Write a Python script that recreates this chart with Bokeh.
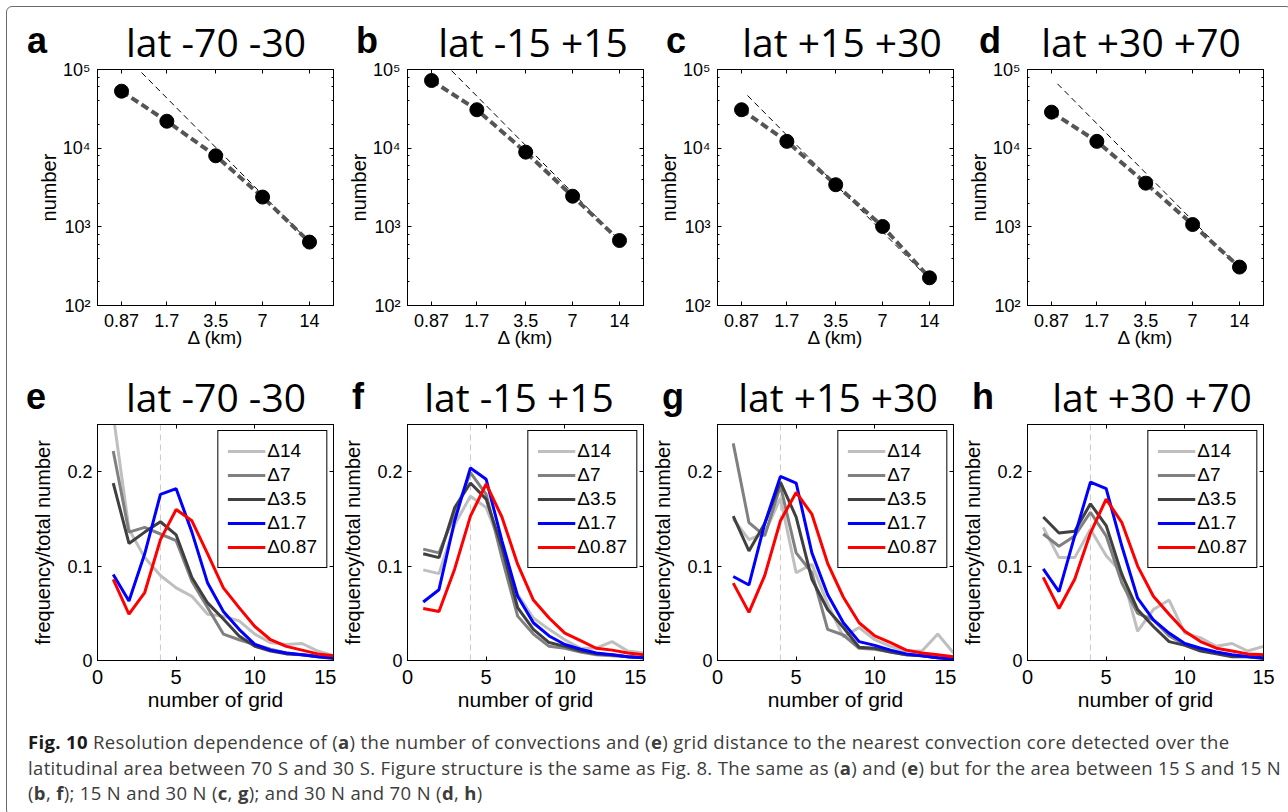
from bokeh.plotting import figure
from bokeh.layouts import row, column
from bokeh.models import (Range1d, FixedTicker, LogTicker, LogAxis, LinearAxis, Span, Div,
                          CustomJSTickFormatter)
from bokeh.embed import file_html
from bokeh.resources import INLINE

# ---------------- data ----------------
letters_top = ["a", "b", "c", "d"]
letters_bot = ["e", "f", "g", "h"]
titles = ["lat -70 -30", "lat -15 +15", "lat +15 +30", "lat +30 +70"]

delta_km = [0.87, 1.7, 3.5, 7, 14]
delta_labels = ["0.87", "1.7", "3.5", "7", "14"]
count_ticks = [100, 1000, 10000, 100000]
count_tick_labels = ["10²", "10³", "10⁴", "10⁵"]

counts_a = [53000, 22000, 8000, 2390, 640]
counts_b = [72400, 30800, 8900, 2450, 670]
counts_c = [30800, 12200, 3430, 1010, 225]
counts_d = [28700, 12200, 3590, 1070, 308]

ref_x = [0.95, 14]
ref_a = [138700, 640]
ref_b = [146800, 676]
ref_c = [46800, 215]
ref_d = [65800, 300]

grid_n = [1, 2, 3, 4, 5, 6, 7, 8, 9, 10, 11, 12, 13, 14, 15]
grid_ticks = [0, 5, 10, 15]
grid_tick_labels = ["0", "5", "10", "15"]
freq_ticks = [0, 0.1, 0.2]
freq_tick_labels = ["0", "0.1", "0.2"]
nearest_ref = 4

series_names = ["Δ14", "Δ7", "Δ3.5", "Δ1.7", "Δ0.87"]

e14 = [0.26, 0.139, 0.109, 0.090, 0.077, 0.068, 0.049, 0.047, 0.042, 0.028, 0.019, 0.017, 0.018, 0.010, 0.005]
e7 = [0.222, 0.136, 0.141, 0.134, 0.127, 0.084, 0.056, 0.028, 0.022, 0.017, 0.012, 0.008, 0.006, 0.005, 0.003]
e35 = [0.188, 0.124, 0.136, 0.147, 0.133, 0.088, 0.061, 0.044, 0.026, 0.015, 0.010, 0.007, 0.006, 0.004, 0.002]
e17 = [0.091, 0.063, 0.113, 0.176, 0.182, 0.136, 0.082, 0.052, 0.033, 0.017, 0.011, 0.008, 0.006, 0.004, 0.003]
e087 = [0.086, 0.049, 0.072, 0.128, 0.160, 0.148, 0.113, 0.077, 0.056, 0.036, 0.022, 0.015, 0.011, 0.007, 0.005]

f14 = [0.096, 0.092, 0.144, 0.174, 0.162, 0.120, 0.070, 0.045, 0.033, 0.022, 0.013, 0.013, 0.020, 0.010, 0.008]
f7 = [0.118, 0.114, 0.155, 0.199, 0.176, 0.109, 0.047, 0.028, 0.015, 0.013, 0.009, 0.006, 0.005, 0.004, 0.003]
f35 = [0.113, 0.109, 0.162, 0.188, 0.171, 0.120, 0.056, 0.033, 0.019, 0.015, 0.010, 0.007, 0.006, 0.004, 0.003]
f17 = [0.062, 0.075, 0.148, 0.204, 0.192, 0.127, 0.068, 0.040, 0.026, 0.017, 0.012, 0.008, 0.006, 0.004, 0.003]
f087 = [0.055, 0.052, 0.097, 0.153, 0.187, 0.152, 0.102, 0.064, 0.045, 0.029, 0.021, 0.013, 0.011, 0.008, 0.006]

g14 = [0.150, 0.128, 0.135, 0.172, 0.093, 0.102, 0.060, 0.025, 0.035, 0.022, 0.015, 0.010, 0.010, 0.028, 0.008]
g7 = [0.230, 0.146, 0.132, 0.185, 0.114, 0.093, 0.033, 0.027, 0.013, 0.012, 0.009, 0.006, 0.005, 0.003, 0.002]
g35 = [0.153, 0.116, 0.145, 0.189, 0.152, 0.086, 0.054, 0.035, 0.014, 0.013, 0.009, 0.006, 0.005, 0.003, 0.002]
g17 = [0.089, 0.080, 0.145, 0.195, 0.188, 0.114, 0.070, 0.040, 0.020, 0.016, 0.011, 0.007, 0.005, 0.003, 0.0015]
g087 = [0.082, 0.051, 0.090, 0.148, 0.178, 0.155, 0.103, 0.067, 0.040, 0.026, 0.019, 0.011, 0.008, 0.006, 0.004]

h14 = [0.141, 0.109, 0.109, 0.139, 0.111, 0.093, 0.031, 0.054, 0.064, 0.029, 0.024, 0.015, 0.018, 0.010, 0.015]
h7 = [0.134, 0.121, 0.132, 0.157, 0.132, 0.082, 0.050, 0.043, 0.026, 0.017, 0.011, 0.008, 0.005, 0.005, 0.006]
h35 = [0.152, 0.135, 0.137, 0.166, 0.143, 0.091, 0.054, 0.036, 0.020, 0.016, 0.010, 0.007, 0.004, 0.004, 0.002]
h17 = [0.097, 0.073, 0.132, 0.189, 0.182, 0.121, 0.066, 0.043, 0.029, 0.018, 0.013, 0.009, 0.006, 0.004, 0.003]
h087 = [0.088, 0.055, 0.086, 0.135, 0.171, 0.146, 0.100, 0.068, 0.049, 0.031, 0.020, 0.013, 0.010, 0.007, 0.006]

caption_lines = [
    '<b style="color:#1a1a1a">Fig. 10</b> Resolution dependence of (<b>a</b>) the number of convections and (<b>e</b>) grid distance to the nearest convection core detected over the',
    'latitudinal area between 70 S and 30 S. Figure structure is the same as Fig. 8. The same as (<b>a</b>) and (<b>e</b>) but for the area between 15 S and 15 N',
    '(<b>b</b>, <b>f</b>); 15 N and 30 N (<b>c</b>, <b>g</b>); and 30 N and 70 N (<b>d</b>, <b>h</b>)',
]

# ---------------- style / layout ----------------
AX_FONT = "Liberation Sans"
TITLE_FONT = "Open Sans"
FRAME = 236
PAGE_W = 1288
TOP_T, TOP_B = 69, 61
BOT_T, BOT_B = 58, 58
LEFTS = [97, 71, 71, 71]
RIGHTS = [3, 3, 3, 25]
LETTER_X_TOP = [27, 356, 666, 979]
LETTER_X_BOT = [26, 352, 662, 972]
TITLE_CX_TOP = [216, 533, 842, 1141]
TITLE_CX_BOT = [216, 519, 838, 1152]
series_colors = ["#bfbfbf", "#808080", "#404040", "#0000ff", "#ff0000"]


def style_axis(ax, tick_size, label_size, tick_standoff, label_standoff):
    ax.formatter = CustomJSTickFormatter(code="return String(tick);")
    ax.axis_line_color = "black"
    ax.axis_line_width = 1
    ax.major_tick_line_color = "black"
    ax.minor_tick_line_color = "black"
    ax.major_tick_in = 4
    ax.major_tick_out = 0
    ax.minor_tick_in = 2
    ax.minor_tick_out = 0
    ax.major_label_text_font = AX_FONT
    ax.major_label_text_font_size = tick_size
    ax.major_label_text_color = "black"
    ax.major_label_standoff = tick_standoff
    ax.axis_label_text_font = AX_FONT
    ax.axis_label_text_font_size = label_size
    ax.axis_label_text_font_style = "normal"
    ax.axis_label_text_color = "black"
    ax.axis_label_standoff = label_standoff


def box_axis(ax):
    ax.formatter = CustomJSTickFormatter(code="return '';")
    ax.axis_label = None
    ax.axis_line_color = "black"
    ax.major_tick_line_color = "black"
    ax.minor_tick_line_color = "black"
    ax.major_tick_in = 4
    ax.major_tick_out = 0
    ax.minor_tick_in = 2
    ax.minor_tick_out = 0
    ax.major_label_text_font_size = "1px"
    ax.major_label_text_alpha = 0
    ax.major_label_standoff = 0
    ax.axis_label_text_font_size = "1px"
    ax.axis_label_standoff = 0


def header_spans(letters, letter_xs, title_cxs, letter_top, title_top):
    spans = []
    for L, lx, t, cx in zip(letters, letter_xs, titles, title_cxs):
        spans.append(
            f'<span style="position:absolute;left:{lx}px;top:{letter_top}px;'
            f'font-family:\'Liberation Sans\';font-weight:bold;font-size:36px;line-height:36px;'
            f'color:#000;white-space:nowrap;">{L}</span>')
        spans.append(
            f'<span style="position:absolute;left:{cx - 150}px;width:300px;text-align:center;'
            f'top:{title_top}px;font-family:\'Open Sans\';font-size:39px;line-height:39px;'
            f'color:#000;white-space:nowrap;">{t}</span>')
    return "".join(spans)


def base_fig(i, top, bottom, **kw):
    p = figure(width=LEFTS[i] + FRAME + RIGHTS[i], height=top + FRAME + bottom,
               min_border_left=LEFTS[i], min_border_right=RIGHTS[i],
               min_border_top=top, min_border_bottom=bottom, title=None,
               output_backend="svg", toolbar_location=None, **kw)
    p.grid.visible = False
    p.outline_line_color = "black"
    p.outline_line_alpha = 1.0
    p.background_fill_color = "white"
    p.border_fill_alpha = 0.0
    return p


def top_panel(i, counts, ref_y):
    p = base_fig(i, TOP_T, TOP_B, x_axis_type="log", y_axis_type="log",
                 x_range=Range1d(0.61, 19.96), y_range=Range1d(1e2, 1e5))
    p.line(ref_x, ref_y, line_color="black", line_width=1, line_dash="6 4")
    p.line(delta_km, counts, line_color="#555555", line_width=4, line_dash="8 4")
    p.scatter(delta_km, counts, size=14, fill_color="black", line_color="black")

    style_axis(p.xaxis[0], "18px", "19px", 8, -3)
    style_axis(p.yaxis[0], "18px", "20px", 7, 0)
    p.xaxis.ticker = FixedTicker(ticks=delta_km, minor_ticks=[])
    p.xaxis.major_label_overrides = dict(zip(delta_km, delta_labels))
    p.xaxis.axis_label = "Δ (km)"
    p.yaxis.ticker = LogTicker()
    p.yaxis.major_label_overrides = dict(zip(count_ticks, count_tick_labels))
    p.yaxis.axis_label = "number"

    ax_top = LogAxis(ticker=FixedTicker(ticks=delta_km, minor_ticks=[]))
    box_axis(ax_top)
    p.add_layout(ax_top, "above")
    ax_right = LogAxis(ticker=LogTicker())
    box_axis(ax_right)
    p.add_layout(ax_right, "right")
    return p


def bot_panel(i, series):
    p = base_fig(i, BOT_T, BOT_B, x_range=Range1d(0, 15), y_range=Range1d(0, 0.25))
    p.add_layout(Span(location=nearest_ref, dimension="height", line_color="#c8c8c8",
                      line_width=1, line_dash="6 4", level="underlay"))
    for name, col, vals in zip(series_names, series_colors, series):
        p.line(grid_n, vals, line_color=col, line_width=3, legend_label=name)

    style_axis(p.xaxis[0], "20px", "21px", 9, 1)
    style_axis(p.yaxis[0], "18px", "20px", 5, 10)
    p.xaxis.ticker = FixedTicker(ticks=grid_ticks, minor_ticks=[])
    p.xaxis.major_label_overrides = dict(zip(grid_ticks, grid_tick_labels))
    p.xaxis.axis_label = "number of grid"
    p.yaxis.ticker = FixedTicker(ticks=freq_ticks, minor_ticks=[])
    p.yaxis.major_label_overrides = dict(zip(freq_ticks, freq_tick_labels))
    p.yaxis.axis_label = "frequency/total number"

    ax_top = LinearAxis(ticker=FixedTicker(ticks=grid_ticks, minor_ticks=[]))
    box_axis(ax_top)
    p.add_layout(ax_top, "above")
    ax_right = LinearAxis(ticker=FixedTicker(ticks=freq_ticks, minor_ticks=[]))
    box_axis(ax_right)
    p.add_layout(ax_right, "right")

    lg = p.legend[0]
    lg.location = "top_right"
    lg.margin = 6
    lg.padding = 9
    lg.spacing = 2
    lg.label_height = 22
    lg.glyph_height = 22
    lg.glyph_width = 38
    lg.label_standoff = 2
    lg.label_text_font = AX_FONT
    lg.label_text_font_size = "19px"
    lg.label_text_color = "black"
    lg.border_line_color = "black"
    lg.border_line_width = 1
    lg.border_line_alpha = 1.0
    lg.background_fill_color = "white"
    lg.background_fill_alpha = 1.0
    return p


tops = [top_panel(0, counts_a, ref_a), top_panel(1, counts_b, ref_b),
        top_panel(2, counts_c, ref_c), top_panel(3, counts_d, ref_d)]
bots = [bot_panel(0, [e14, e7, e35, e17, e087]), bot_panel(1, [f14, f7, f35, f17, f087]),
        bot_panel(2, [g14, g7, g35, g17, g087]), bot_panel(3, [h14, h7, h35, h17, h087])]

# panel letters and titles: one overlay positioned over the top-left of the page
overlay_html = (
    f'<div style="position:relative;width:{PAGE_W}px;height:430px;margin:0;padding:0;">'
    + header_spans(letters_top, LETTER_X_TOP, TITLE_CX_TOP, 23, 22)
    + header_spans(letters_bot, LETTER_X_BOT, TITLE_CX_BOT, 379, 377)
    + "</div>"
)
overlay = Div(text=overlay_html, width=PAGE_W, height=430,
              styles={"position": "absolute", "left": "0px", "top": "0px",
                      "z-index": "5", "margin": "0px", "pointer-events": "none"})

caption_html = (
    '<div style="font-family:\'Open Sans\',sans-serif;font-size:18.5px;letter-spacing:0.35px;'
    'line-height:25.5px;color:#3c3c3c;padding:6px 0 0 23px;white-space:nowrap;margin:0;">'
    + "<br>".join(caption_lines) + "</div>"
)
cap = Div(text=caption_html, width=PAGE_W, height=94)

layout = column(row(*tops), row(*bots), cap, overlay,
                styles={"outline": "1.5px solid #6b6b6b", "outline-offset": "-7px",
                        "border-radius": "12px", "position": "relative"})

open("out.html", "w", encoding="utf-8").write(file_html(layout, INLINE, title="Fig. 10"))
